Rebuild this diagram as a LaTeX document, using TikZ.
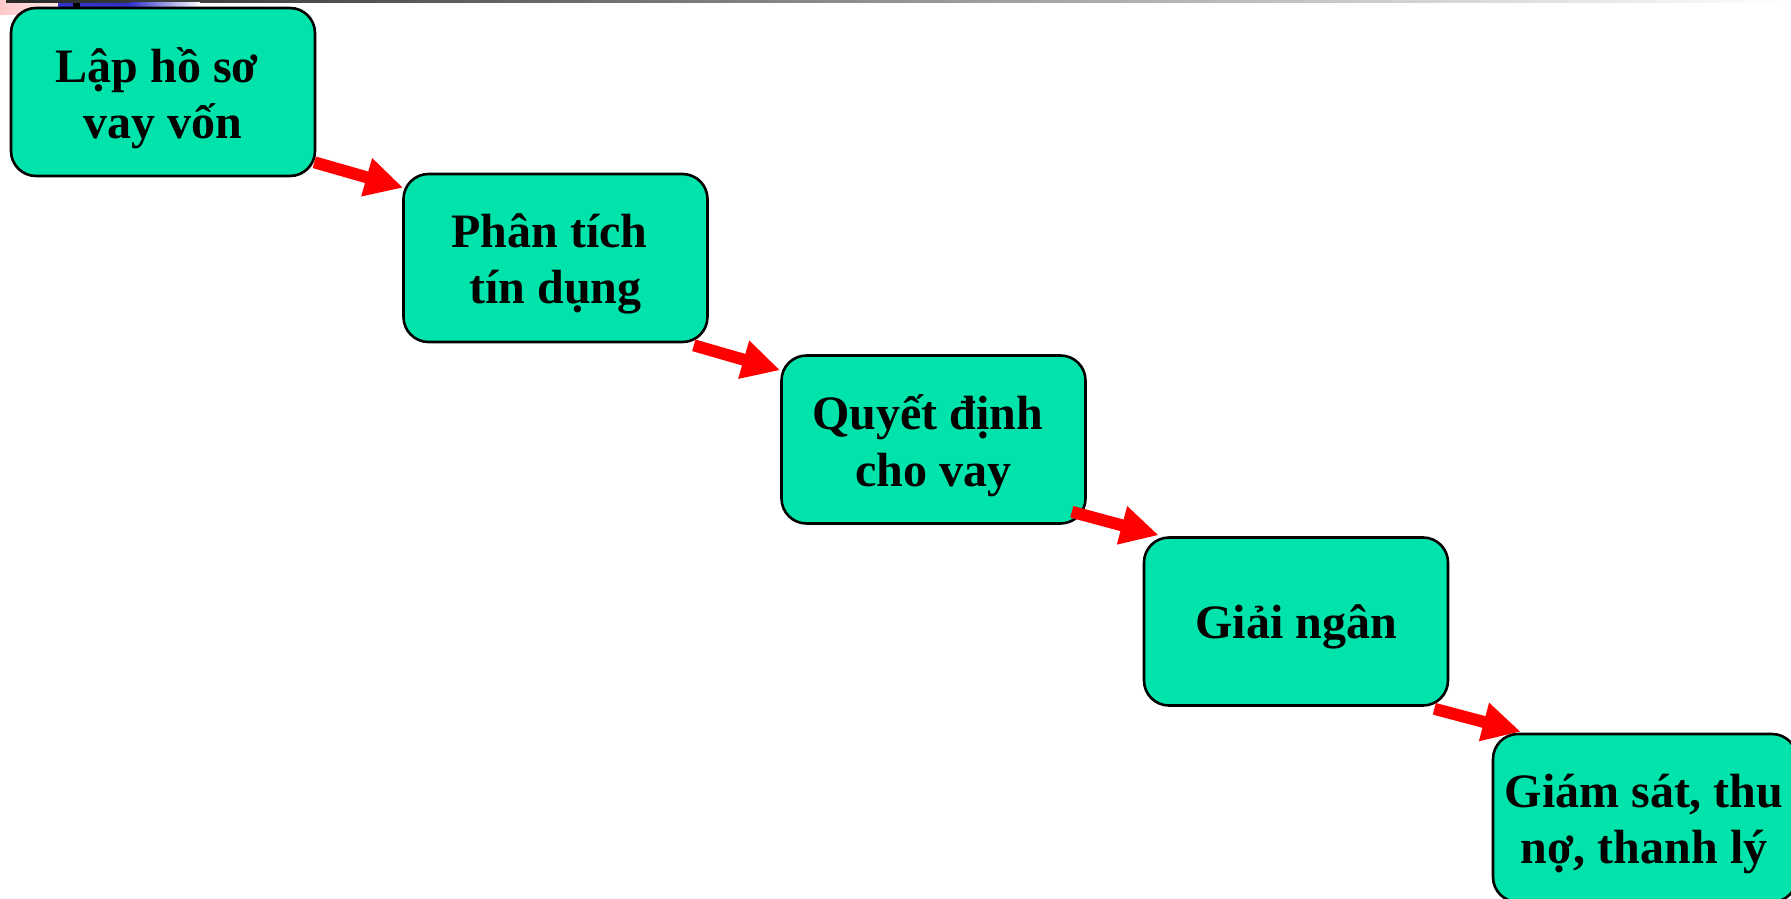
\documentclass[tikz,border=0pt]{standalone}
\usepackage{fontspec}
\setmainfont{Liberation Serif}
\usetikzlibrary{calc,arrows.meta}
\definecolor{boxfill}{RGB}{0,228,172}
\definecolor{arrowred}{RGB}{255,0,0}
\definecolor{topdark}{RGB}{40,40,40}
\definecolor{pinkish}{RGB}{255,200,200}
\definecolor{barblue}{RGB}{50,50,200}
\newcommand{\trailsp}{\kern12pt}
\tikzset{
  stepbox/.style={draw=black, line width=2.6pt, fill=boxfill, rounded corners=25pt,
    minimum width=304pt, minimum height=168pt, inner sep=0pt},
  steptext/.style={inner sep=0pt, align=center,
    font=\fontsize{48pt}{56.5pt}\selectfont\bfseries},
  flowarrow/.style={draw=arrowred, line width=12pt, -{Triangle[length=38pt,width=37pt]}}
}
\begin{document}
\begin{tikzpicture}[x=1pt,y=-1pt]
\useasboundingbox (0,0) rectangle (1791,899);
% slide top decoration
\shade[left color=pinkish, right color=pinkish!40] (0,0) rectangle (58,15);
\shade[left color=topdark, right color=white] (6,0) rectangle (1791,3);
\fill[barblue] (58,3) rectangle (130,8);
\shade[left color=barblue, right color=white] (130,3) rectangle (200,8);
\fill[black] (73,3) rectangle (80,9);
% boxes
\node[stepbox] (b1) at (163,92) {};
\node[stepbox] (b2) at (555.5,258) {};
\node[stepbox] (b3) at (933.5,439.5) {};
\node[stepbox] (b4) at (1296,621.5) {};
\node[stepbox] (b5) at (1645,818) {};
% texts
\node[steptext] (t1) at ($(b1.center)+(0,6)$) {Lập hồ sơ\trailsp\\vay vốn};
\node[steptext] (t2) at ($(b2.center)+(0,6)$) {Phân tích\trailsp\\tín dụng};
\node[steptext] (t3) at ($(b3.center)+(0,6)$) {Quyết định\trailsp\\cho vay};
\node[steptext] (t4) at ($(b4.center)+(0,5)$) {Giải ngân};
\node[steptext] (t5) at ($(b5.center)+(-1,6)$) {Giám sát, thu\\nợ, thanh lý};
% arrows
\draw[flowarrow] ($(b1.south east)+(-2,-15)$) -- ($(b2.north west)+(1,15)$);
\draw[flowarrow] ($(b2.south east)+(-15,2)$) -- ($(b3.north west)+(0,16)$);
\draw[flowarrow] ($(b3.south east)+(-15,-13)$) -- ($(b4.north west)+(16,-1)$);
\draw[flowarrow] ($(b4.south east)+(-15,2)$) -- ($(b5.north west)+(29,-1)$);
\end{tikzpicture}
\end{document}
